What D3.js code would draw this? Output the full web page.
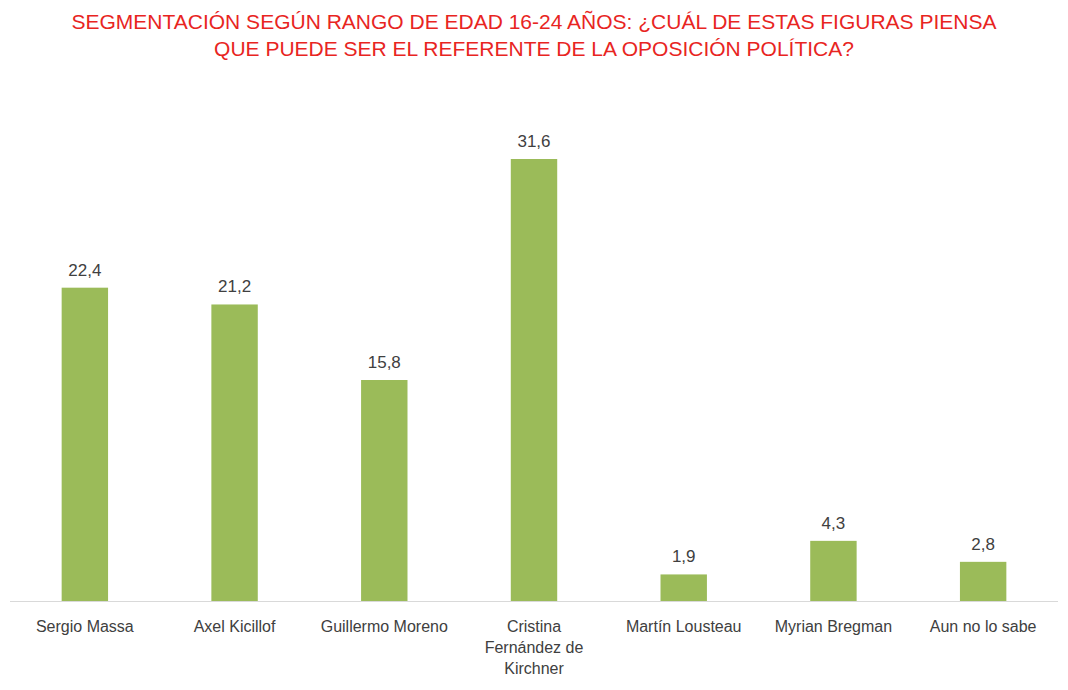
<!DOCTYPE html>
<html><head><meta charset="utf-8">
<script src="https://cdn.jsdelivr.net/npm/d3@7"></script>
<style>body{margin:0;background:#fff}</style>
</head><body>
<svg id="c" width="1068" height="690"></svg>
<script>
const categories = [["Sergio Massa"],["Axel Kicillof"],["Guillermo Moreno"],["Cristina","Fernández de","Kirchner"],["Martín Lousteau"],["Myrian Bregman"],["Aun no lo sabe"]];
const values = [22.4,21.2,15.8,31.6,1.9,4.3,2.8];
const titleLines = ["SEGMENTACIÓN SEGÚN RANGO DE EDAD 16-24 AÑOS: ¿CUÁL DE ESTAS FIGURAS PIENSA","QUE PUEDE SER EL REFERENTE DE LA OPOSICIÓN POLÍTICA?"];

const svg = d3.select("#c");
const font = "'Liberation Sans', Arial, sans-serif";
const x = d3.scaleBand().domain(d3.range(values.length)).range([10,1058]).paddingInner(0.69).paddingOuter(0.345);
const y = d3.scaleLinear().domain([0,31.6]).range([601,159]);

svg.selectAll("text.t").data(titleLines).join("text")
  .attr("x",534).attr("y",(d,i)=>29+i*27).attr("text-anchor","middle")
  .attr("font-family",font).attr("font-size",21).attr("fill","#e8251f").text(d=>d);

svg.selectAll("rect").data(values).join("rect")
  .attr("x",(d,i)=>x(i)).attr("width",x.bandwidth())
  .attr("y",d=>y(d)).attr("height",d=>601-y(d)).attr("fill","#9bbb59");

svg.append("line").attr("x1",10).attr("x2",1058).attr("y1",601.5).attr("y2",601.5).attr("stroke","#d9d9d9");

svg.selectAll("text.v").data(values).join("text")
  .attr("x",(d,i)=>x(i)+x.bandwidth()/2).attr("y",d=>y(d)-12).attr("text-anchor","middle")
  .attr("font-family",font).attr("font-size",17).attr("fill","#404040")
  .text(d=>d3.format(".1f")(d).replace(".",","));

categories.forEach((lines,i)=>{
  svg.append("text").attr("x",x(i)+x.bandwidth()/2).attr("y",632).attr("text-anchor","middle")
    .attr("font-family",font).attr("font-size",16).attr("fill","#404040")
    .selectAll("tspan").data(lines).join("tspan")
    .attr("x",x(i)+x.bandwidth()/2).attr("dy",(d,j)=>j?21:0).text(d=>d);
});
</script>
</body></html>
